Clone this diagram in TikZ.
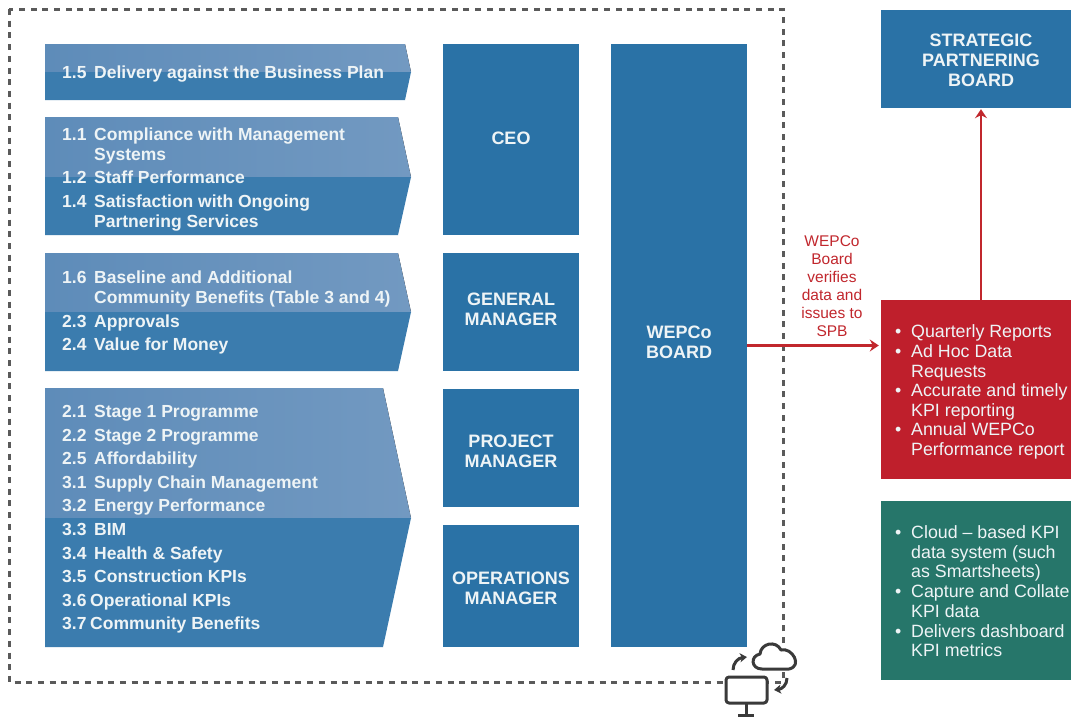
\documentclass[tikz,border=0pt]{standalone}
\usepackage{fontspec}
\usetikzlibrary{arrows.meta}
\setmainfont{Liberation Sans}
\definecolor{boxblue}{HTML}{2A72A6}
\definecolor{bandleft}{HTML}{5E8CB9}
\definecolor{bandright}{HTML}{7299C1}
\definecolor{banddark}{HTML}{3B7CAE}
\definecolor{redbox}{HTML}{BF1F2C}
\definecolor{greenbox}{HTML}{26766A}
\definecolor{framegray}{HTML}{5A5A5A}
\definecolor{icongray}{HTML}{3A3A3A}
\definecolor{arrowred}{HTML}{C1272D}
\definecolor{paletext}{HTML}{EEF4F6}
\tikzset{
    rolebox/.style={fill=boxblue,inner sep=0pt,minimum width=136pt},
    rolelabel/.style={text=paletext,font=\fontsize{18}{20}\selectfont\bfseries,align=center,inner sep=0pt},
    bandtext/.style={text=paletext,font=\fontsize{17.5}{20}\selectfont\bfseries,anchor=base west,inner sep=0pt},
    listtext/.style={text=paletext,font=\fontsize{17.8}{20}\selectfont,anchor=base west,inner sep=0pt},
    sidebox/.style={inner sep=0pt,minimum width=200pt},
}
\begin{document}
\begin{tikzpicture}[>={Stealth[length=9pt,width=12pt,inset=3pt]},x=1pt,y=-1pt,line join=miter]
    \clip (0,0) rectangle (1071,718);
    \fill [white] (0,0) rectangle (1071,718);
    % outer frame
    \draw [framegray,line width=3pt,dash pattern=on 6pt off 5.7pt] (9,9) rectangle (783,682);
    % bands: top y, split y, bottom y, shoulder x
    \foreach \top/\mid/\bot/\sh in {44/72/100/405,117/177/235/398,253/312/371/398,388/518/647/383} {
        \fill [left color=bandleft,right color=bandright] (45,\top) -- (\sh,\top) -- (411,\mid) -- (45,\mid) -- cycle;
        \fill [banddark] (45,\mid) -- (411,\mid) -- (\sh,\bot) -- (45,\bot) -- cycle;
    }
    \foreach \y/\num/\tx/\txt [count=\i] in {
        78/1.5/94/Delivery against the Business Plan,
        140/1.1/94/Compliance with Management,
        160//94/Systems,
        183/1.2/94/Staff Performance,
        207/1.4/94/Satisfaction with Ongoing,
        227//94/Partnering Services,
        283/1.6/94/Baseline and Additional,
        303//94/Community Benefits (Table 3 and 4),
        327/2.3/94/Approvals,
        350/2.4/94/Value for Money,
        417/2.1/94/Stage 1 Programme,
        441/2.2/94/Stage 2 Programme,
        464/2.5/94/Affordability,
        488/3.1/94/Supply Chain Management,
        511/3.2/94/Energy Performance,
        535/3.3/94/BIM,
        559/3.4/94/Health \& Safety,
        582/3.5/94/Construction KPIs,
        606/3.6/90/Operational KPIs,
        629/3.7/90/Community Benefits} {
        \node [bandtext] (num\i) at (62,\y) {\num};
        \node [bandtext] (item\i) at (\tx,\y) {\txt};
    }
    % roles
    \node [rolebox,minimum height=191pt] (ceo) at (511,139.5) {};
    \node [rolebox,minimum height=118pt] (gm) at (511,312) {};
    \node [rolebox,minimum height=118pt] (pm) at (511,448) {};
    \node [rolebox,minimum height=122pt] (om) at (511,586) {};
    \node [rolebox,minimum height=603pt] (board) at (679,345.5) {};
    \node [rolelabel] (ceotext) at (511,138) {CEO};
    \node [rolelabel] (gmtext) at (511,309) {GENERAL\\MANAGER};
    \node [rolelabel] (pmtext) at (511,451) {PROJECT\\MANAGER};
    \node [rolelabel] (omtext) at (511,588.5) {OPERATIONS\\MANAGER};
    \node [rolelabel] (boardtext) at (679,342.5) {WEPCo\\BOARD};
    % right hand side
    \node [sidebox,fill=boxblue,minimum height=98pt] (spb) at (981,59) {};
    \node [rolelabel] (spbtext) at (981,60) {STRATEGIC\\PARTNERING\\BOARD};
    \node [sidebox,fill=redbox,minimum height=179pt] (reports) at (981,389.5) {};
    \node [sidebox,fill=greenbox,minimum height=179pt] (cloud) at (981,590.5) {};
    \foreach \y/\bul/\txt [count=\i] in {
        337/1/Quarterly Reports,
        357/1/Ad Hoc Data,
        377/0/Requests,
        396/1/Accurate and timely,
        416/0/KPI reporting,
        435/1/Annual WEPCo,
        455/0/Performance report,
        538/1/Cloud – based KPI,
        558/0/data system (such,
        577/0/as Smartsheets),
        597/1/Capture and Collate,
        617/0/KPI data,
        637/1/Delivers dashboard,
        656/0/KPI metrics} {
        \node [listtext] (side\i) at (911,\y) {\txt};
        \ifnum\bul=1 \node [listtext] (bullet\i) at (895,\y) {\textbullet}; \fi
    }
    \draw [->,arrowred,line width=2.5pt,shorten >=1pt] (reports.north) -- (spb.south);
    \draw [->,arrowred,line width=2.5pt,shorten >=2pt] (board.east) -- (board.east -| reports.west);
    \node [text=arrowred,align=center,inner sep=0pt,font=\fontsize{15.5}{18}\selectfont] (verifies) at (832,286) {WEPCo\\Board\\verifies\\data and\\issues to\\SPB};
    % cloud and monitor
    \begin{scope}[>={Stealth[length=7pt,width=9pt,inset=2pt]},icongray,line width=3pt,line join=round]
        \filldraw [fill=white] (762,669) .. controls (751,669) and (750,656) .. (760,654)
            .. controls (761,643) and (776,640) .. (781,650)
            .. controls (792,647) and (803,666) .. (789,669) -- cycle;
        \filldraw [fill=white,rounded corners=3pt] (726,677) rectangle (767,703);
        \draw (746,704) -- (746,714);
        \draw (738,715) -- (754,715);
        \draw [->] (733,670) .. controls (733,663) and (738,658) .. (747,657);
        \draw [->] (787,678) .. controls (787,685) and (782,689) .. (774,690);
    \end{scope}
\end{tikzpicture}
\end{document}
